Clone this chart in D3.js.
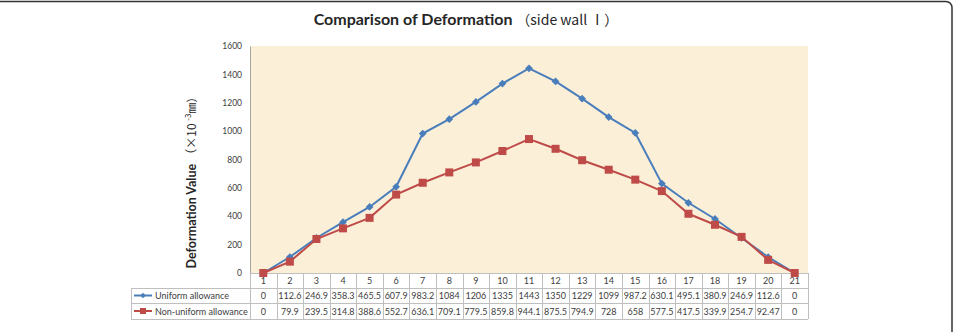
<!DOCTYPE html>
<html>
<head>
<meta charset="utf-8">
<script src="https://cdn.jsdelivr.net/npm/d3@7"></script>
<style>
  body { margin: 0; background: #fff; }
  svg { display: block; }
</style>
</head>
<body>
<svg width="955" height="332"></svg>
<script>
const categories = ["1","2","3","4","5","6","7","8","9","10","11","12","13","14","15","16","17","18","19","20","21"];
const uniform = [0,112.6,246.9,358.3,465.5,607.9,983.2,1084,1206,1335,1443,1350,1229,1099,987.2,630.1,495.1,380.9,246.9,112.6,0];
const nonUniform = [0,79.9,239.5,314.8,388.6,552.7,636.1,709.1,779.5,859.8,944.1,875.5,794.9,728,658,577.5,417.5,339.9,254.7,92.47,0];
const yTicks = [0,200,400,600,800,1000,1200,1400,1600];

const series = [
    {name: "Uniform allowance", values: uniform, color: "#4a7ebb", marker: "diamond"},
    {name: "Non-uniform allowance", values: nonUniform, color: "#be4b48", marker: "square"}
];

const svg = d3.select("svg");
const font = "Lato, 'Liberation Sans', sans-serif";
const cjk = "'Noto Sans CJK SC', sans-serif";

// outer frame
svg.append("rect")
    .attr("x", -10).attr("y", 1.5)
    .attr("width", 962).attr("height", 400)
    .attr("rx", 6)
    .attr("fill", "none")
    .attr("stroke", "#333")
    .attr("stroke-width", 1.5);

const x = d3.scaleBand().domain(categories).range([250, 808]);
const y = d3.scaleLinear().domain([0, 1600]).range([273, 46]);

// plot background
svg.append("rect")
    .attr("x", x.range()[0]).attr("y", y(1600))
    .attr("width", x.range()[1] - x.range()[0])
    .attr("height", y(0) - y(1600))
    .attr("fill", "#fcefd8");

// y axis
const yAxis = svg.append("g")
    .attr("transform", "translate(" + x.range()[0] + ",0)")
    .call(d3.axisLeft(y).tickValues(yTicks).tickFormat(d3.format("d")).tickSize(0).tickPadding(8));
yAxis.select(".domain").attr("stroke", "#a6a6a6");
yAxis.selectAll("text")
    .attr("font-family", font)
    .attr("font-size", "8.5px")
    .attr("fill", "#404040");

// title
const title = svg.append("text")
    .attr("x", 466).attr("y", 25)
    .attr("text-anchor", "middle")
    .attr("font-family", font)
    .attr("font-size", "16px")
    .attr("fill", "#262626");
title.append("tspan").attr("font-weight", "bold").text("Comparison of Deformation ");
title.append("tspan").attr("font-family", cjk).attr("font-size", "14px").text("（side wall Ⅰ）");

// y label
const ylab = svg.append("text")
    .attr("transform", "translate(196,180) rotate(-90)")
    .attr("text-anchor", "middle")
    .attr("font-family", font)
    .attr("font-size", "12.5px")
    .attr("fill", "#262626");
ylab.append("tspan").attr("font-weight", "bold").text("Deformation Value ");
ylab.append("tspan").attr("font-family", cjk).attr("font-size", "12px").text("（×10 ");
ylab.append("tspan").attr("font-family", cjk).attr("font-size", "8px").attr("dy", -5).text("-3");
ylab.append("tspan").attr("font-family", cjk).attr("font-size", "11px").attr("dy", 5).text("㎜）");

// data table
const tableLeft = 131;
const rowY = [273, 288, 303, 319];
const grid = svg.append("g").attr("stroke", "#bfbfbf").attr("stroke-width", 1).attr("fill", "none");
grid.append("line").attr("x1", x.range()[0]).attr("x2", x.range()[1]).attr("y1", rowY[0] + 0.5).attr("y2", rowY[0] + 0.5);
[1, 2, 3].forEach(function(i) {
    grid.append("line").attr("x1", tableLeft).attr("x2", x.range()[1]).attr("y1", rowY[i] + 0.5).attr("y2", rowY[i] + 0.5);
});
categories.forEach(function(c) {
    grid.append("line")
        .attr("x1", Math.round(x(c)) + 0.5).attr("x2", Math.round(x(c)) + 0.5)
        .attr("y1", rowY[0]).attr("y2", rowY[3]);
});
grid.append("line").attr("x1", x.range()[1] + 0.5).attr("x2", x.range()[1] + 0.5).attr("y1", rowY[0]).attr("y2", rowY[3]);
grid.append("line").attr("x1", tableLeft + 0.5).attr("x2", tableLeft + 0.5).attr("y1", rowY[1]).attr("y2", rowY[3]);

const tableText = svg.append("g")
    .attr("font-family", font)
    .attr("font-size", "9px")
    .attr("fill", "#404040")
    .attr("text-anchor", "middle");

tableText.selectAll(".cat")
    .data(categories)
    .enter().append("text")
    .attr("class", "cat")
    .attr("x", function(d) { return x(d) + x.bandwidth() / 2; })
    .attr("y", (rowY[0] + rowY[1]) / 2 + 3.5)
    .text(function(d) { return d; });

// diamond = square turned 45 degrees
function markerPath(size) {
    return d3.symbol().type(d3.symbolSquare).size(size)();
}
function markerRotate(type) {
    return type === "diamond" ? " rotate(45)" : "";
}

series.forEach(function(s, si) {
    const cy = (rowY[si + 1] + rowY[si + 2]) / 2;
    tableText.selectAll(".v" + si)
        .data(s.values)
        .enter().append("text")
        .attr("x", function(d, i) { return x(categories[i]) + x.bandwidth() / 2; })
        .attr("y", cy + 3.5)
        .text(function(d) { return d; });

    // legend key
    svg.append("line")
        .attr("x1", 134).attr("x2", 152)
        .attr("y1", cy).attr("y2", cy)
        .attr("stroke", s.color).attr("stroke-width", 2);
    svg.append("path")
        .attr("d", markerPath(s.marker === "diamond" ? 16 : 36))
        .attr("transform", "translate(143," + cy + ")" + markerRotate(s.marker))
        .attr("fill", s.color);
    svg.append("text")
        .attr("x", 155).attr("y", cy + 3.5)
        .attr("font-family", font)
        .attr("font-size", "9px")
        .attr("fill", "#404040")
        .text(s.name);
});

// lines and markers
const line = d3.line()
    .x(function(d, i) { return x(categories[i]) + x.bandwidth() / 2; })
    .y(function(d) { return y(d); });

series.forEach(function(s) {
    svg.append("path")
        .datum(s.values)
        .attr("d", line)
        .attr("fill", "none")
        .attr("stroke", s.color)
        .attr("stroke-width", 2);
});
series.forEach(function(s) {
    svg.selectAll(".m-" + s.marker)
        .data(s.values)
        .enter().append("path")
        .attr("class", "m-" + s.marker)
        .attr("d", markerPath(s.marker === "diamond" ? 30 : 64))
        .attr("transform", function(d, i) {
            return "translate(" + (x(categories[i]) + x.bandwidth() / 2) + "," + y(d) + ")" + markerRotate(s.marker);
        })
        .attr("fill", s.color);
});
</script>
</body>
</html>
